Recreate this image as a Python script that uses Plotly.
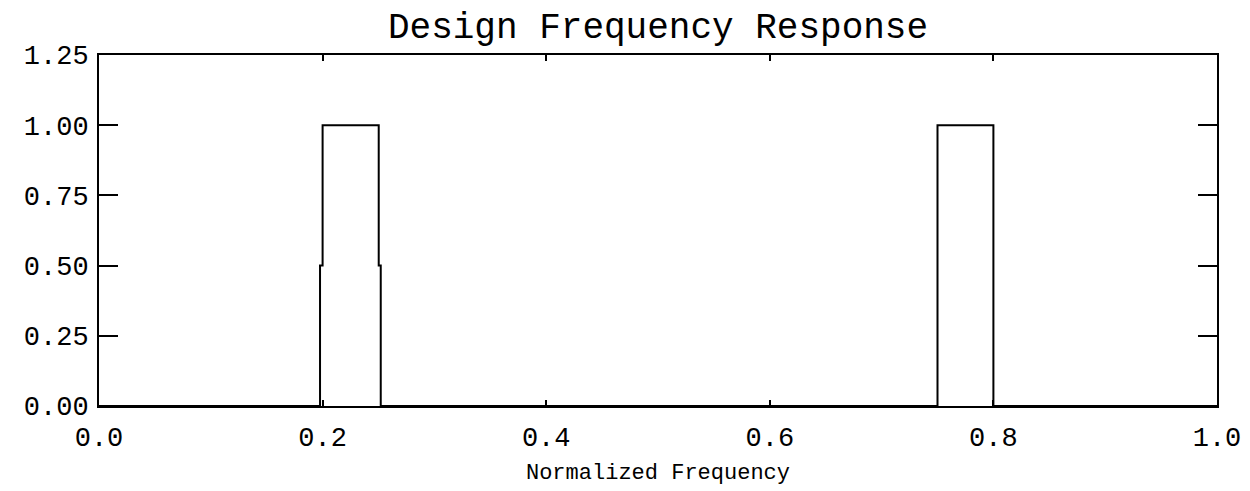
import plotly.graph_objects as go

# Data: design frequency response (normalized frequency vs magnitude)
freq = [0.0, 0.1977, 0.1977, 0.2, 0.2, 0.2502, 0.2502, 0.252, 0.252, 0.75, 0.75, 0.80, 0.80, 1.0]
resp = [0.0, 0.0, 0.5, 0.5, 1.0, 1.0, 0.5, 0.5, 0.0, 0.0, 1.0, 1.0, 0.0, 0.0]

x_ticks = [0.0, 0.2, 0.4, 0.6, 0.8, 1.0]
x_labels = ["0.0", "0.2", "0.4", "0.6", "0.8", "1.0"]
y_ticks = [0.0, 0.25, 0.5, 0.75, 1.0, 1.25]
y_labels = ["0.00", "0.25", "0.50", "0.75", "1.00", "1.25"]

FONT = "Liberation Mono"

fig = go.Figure()
fig.add_trace(go.Scatter(x=freq, y=resp, mode="lines",
                         line=dict(color="black", width=2), showlegend=False,
                         cliponaxis=False))

fig.update_layout(
    width=1242, height=483,
    margin=dict(l=91, r=33, t=47, b=85, autoexpand=False),
    plot_bgcolor="white", paper_bgcolor="white",
    title=dict(text="Design Frequency Response", xref="paper", x=0.5, xanchor="center",
               yref="container", y=1 - 17 / 483, yanchor="middle",
               font=dict(family=FONT, size=36, color="black")),
    font=dict(family=FONT, color="black"),
)
fig.update_xaxes(range=[0, 1], tickvals=x_ticks, ticktext=x_labels,
                 ticks="inside", ticklen=6, tickwidth=2, tickcolor="black",
                 showline=True, linecolor="black", linewidth=2, mirror="ticks",
                 showgrid=False, zeroline=False, ticklabelstandoff=6,
                 automargin=False,
                 tickfont=dict(family=FONT, size=27, color="black"),
                 title=dict(text="Normalized Frequency", standoff=10,
                            font=dict(family=FONT, size=22, color="black")))
fig.update_yaxes(range=[0, 1.25], tickvals=y_ticks, ticktext=y_labels,
                 ticks="inside", ticklen=19, tickwidth=2, tickcolor="black",
                 showline=True, linecolor="black", linewidth=2, mirror="ticks",
                 showgrid=False, zeroline=False, ticklabelstandoff=3,
                 automargin=False,
                 tickfont=dict(family=FONT, size=27, color="black"))

fig.write_html("out.html")
